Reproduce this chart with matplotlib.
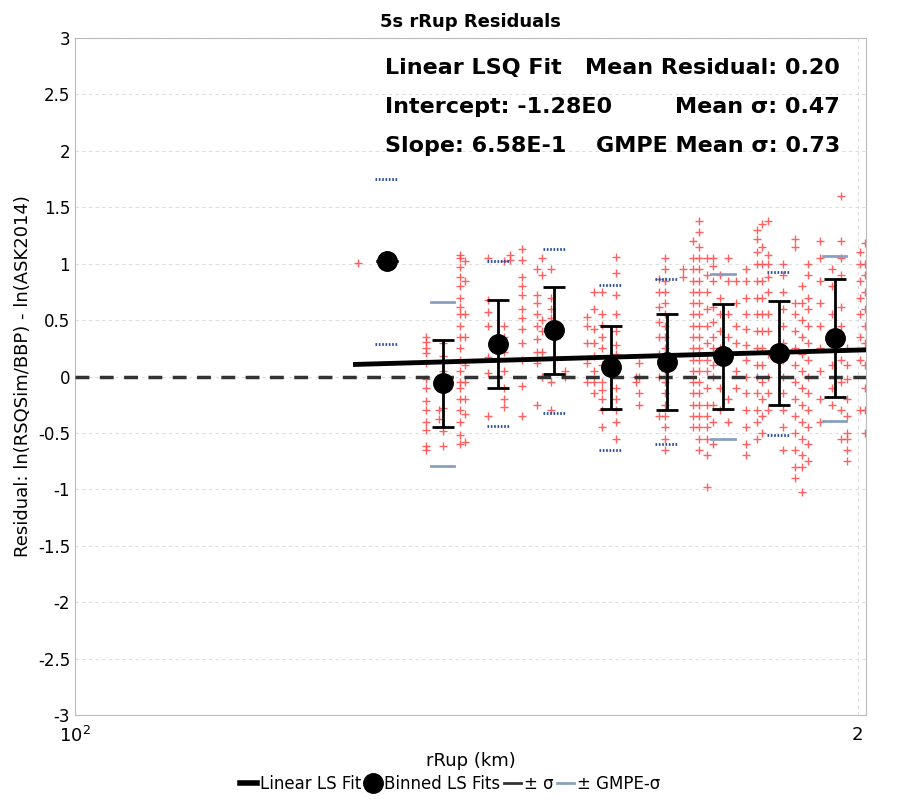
import numpy as np
import matplotlib
matplotlib.use("Agg")
import matplotlib.pyplot as plt
from matplotlib.lines import Line2D

# binned stats (rRup km, residual)
bin_r = [131.8, 138.5, 145.5, 152.9, 160.7, 168.9, 177.5, 186.5, 196.0]
bin_mean = [1.02, -0.06, 0.29, 0.41, 0.08, 0.13, 0.18, 0.21, 0.34]
bin_sigma = [0.0, 0.385, 0.39, 0.385, 0.37, 0.425, 0.465, 0.46, 0.525]
gmpe_hi = [1.75, 0.66, 1.02, 1.13, 0.81, 0.86, 0.91, 0.93, 1.07]
gmpe_lo = [0.29, -0.79, -0.44, -0.32, -0.65, -0.60, -0.55, -0.52, -0.39]
gmpe_dotted = [True, False, True, True, True, True, False, True, False]
fit_intercept = -1.28
fit_slope = 0.658
fit_r = [128.2, 201.5]

# scatter columns: rRup and residual values
col_r = [128.5, 136.5, 138.0, 138.5, 140.6, 141.2, 144.2, 146.2, 147.0, 148.6,
         150.6, 151.2, 152.4, 154.3, 157.4, 158.4, 159.5, 161.5, 164.3, 164.8,
         167.7, 168.7, 171.3, 172.8, 173.8, 175.0, 176.0, 177.0, 178.3, 179.6,
         181.2, 183.0, 183.7, 184.7, 187.3, 189.2, 190.4, 191.4, 193.4, 195.5,
         197.0, 198.2, 200.5, 201.3]
col_y = [
    [1.01],
    [-0.65, -0.62, -0.47, -0.40, -0.30, -0.22, -0.10, -0.02, 0.12, 0.21, 0.25, 0.31, 0.35],
    [-0.38, -0.30],
    [-0.62, -0.48, -0.28, -0.12, 0.05, 0.18, 0.30],
    [-0.60, -0.52, -0.40, -0.30, -0.20, -0.10, -0.05, 0.05, 0.15, 0.25, 0.35, 0.45, 0.55, 0.62, 0.70, 0.80, 0.88, 0.97, 1.05, 1.08],
    [-0.58, -0.33, -0.20, -0.05, 0.10, 0.35, 0.55, 0.85, 1.02],
    [-0.35, 0.03, 0.17, 0.45, 0.57, 0.68, 1.05],
    [-0.27, -0.20, -0.10, 0.05, 0.22, 0.35, 0.45, 1.02],
    [1.03, 1.08],
    [-0.35, -0.08, 0.15, 0.30, 0.42, 0.52, 0.60, 0.72, 0.80, 0.88, 1.03, 1.13],
    [-0.25, 0.12, 0.22, 0.33, 0.45, 0.55, 0.65, 0.72, 0.95],
    [0.0, 0.22, 0.40, 0.50, 0.90, 1.05],
    [-0.30, -0.05, 0.40, 0.45, 0.52, 0.60, 0.70, 0.95],
    [0.05, 0.0],
    [-0.05, 0.12, 0.30, 0.45, 0.53],
    [-0.15, -0.05, 0.05, 0.18, 0.30, 0.42, 0.60, 0.75],
    [-0.45, -0.30, -0.20, -0.12, -0.05, 0.10, 0.25, 0.35, 0.46, 0.55, 0.75],
    [-0.55, -0.40, -0.30, -0.20, -0.10, 0.20, 0.28, 0.40, 0.55, 0.72, 0.92, 1.06],
    [-0.05, 0.0],
    [-0.25, -0.15, 0.0, 0.12],
    [-0.35, 0.0, 0.20, 0.35, 0.48, 0.62, 0.75, 0.86],
    [-0.65, -0.55, -0.45, -0.35, -0.25, -0.15, -0.05, 0.05, 0.15, 0.25, 0.35, 0.45, 0.55, 0.65, 0.75, 0.85, 0.95, 1.05],
    [0.88, 0.95],
    [-0.45, -0.35, -0.25, -0.15, -0.05, 0.05, 0.15, 0.25, 0.35, 0.45, 0.55, 0.65, 0.75, 0.85, 0.95, 1.05, 1.20],
    [-0.65, -0.55, -0.45, -0.35, -0.25, -0.15, -0.05, 0.05, 0.15, 0.25, 0.35, 0.45, 0.55, 0.65, 0.75, 0.85, 0.95, 1.05, 1.15, 1.28, 1.38],
    [-0.98, -0.70, -0.55, -0.45, -0.35, -0.25, -0.10, 0.05, 0.15, 0.30, 0.45, 0.60, 0.75, 0.90, 1.05],
    [-0.60, -0.40, -0.25, 0.0, 0.10, 0.25, 0.35, 0.48, 0.62, 0.85, 0.98, 1.05],
    [-0.30, -0.10, 0.25, 0.40, 0.55, 0.70, 0.90],
    [-0.40, -0.20, 0.20, 0.35, 0.55, 0.85, 1.05],
    [-0.10, 0.05, 0.30, 0.45, 0.65, 0.85],
    [-0.70, -0.60, -0.45, -0.30, -0.15, 0.0, 0.15, 0.28, 0.42, 0.55, 0.70, 0.85, 0.95],
    [-0.55, -0.40, -0.30, -0.15, 0.0, 0.10, 0.25, 0.40, 0.55, 0.70, 0.85, 1.00, 1.10, 1.22, 1.30],
    [-0.50, -0.35, -0.20, -0.05, 0.10, 0.25, 0.40, 0.55, 0.70, 0.85, 1.00, 1.15, 1.35],
    [-0.30, -0.15, 0.0, 0.20, 0.40, 0.55, 0.75, 0.88, 1.00, 1.08, 1.38],
    [-0.65, -0.45, -0.30, -0.15, 0.0, 0.15, 0.30, 0.45, 0.60, 0.75, 0.90, 1.00],
    [-0.90, -0.80, -0.65, -0.50, -0.35, -0.20, -0.05, 0.10, 0.25, 0.40, 0.55, 0.65, 1.15, 1.22],
    [-1.02, -0.80, -0.70, -0.55, -0.40, -0.25, -0.10, 0.05, 0.20, 0.35, 0.50, 0.65, 0.80],
    [-0.75, -0.60, -0.45, -0.30, -0.15, 0.0, 0.15, 0.30, 0.45, 0.60, 0.70, 0.90, 1.00],
    [-0.40, -0.20, 0.05, 0.25, 0.45, 0.65, 0.85, 1.05, 1.20],
    [-0.25, -0.10, 0.10, 0.30, 0.55, 0.80, 0.95],
    [-0.55, -0.30, -0.05, 0.15, 0.45, 0.62, 0.90, 1.05, 1.20, 1.60],
    [-0.75, -0.65, -0.55, -0.50, -0.35, -0.20, -0.02, 0.10, 0.25],
    [-0.30, 0.15, 0.35, 0.55, 0.70, 0.85, 1.00, 1.10],
    [-0.50, -0.30, -0.10, 0.10, 0.30, 0.45, 0.60, 0.75, 0.90, 1.00, 1.18],
]

fig, ax = plt.subplots(figsize=(9, 8), dpi=100)
fig.subplots_adjust(left=75/900, right=866/900, top=1-38/800, bottom=1-715/800)

for r, ys in zip(col_r, col_y):
    ax.scatter([r]*len(ys), ys, marker="+", color="#ff4444", s=26, linewidths=1.0, alpha=0.85, zorder=2)

ax.axhline(0, color="#333333", ls=(0, (4, 3)), lw=2.5, zorder=3)

fit_y = [fit_intercept + fit_slope*np.log10(r) for r in fit_r]
ax.plot(fit_r, fit_y, color="black", lw=3.5, zorder=4)

for r, lo, hi, dot in zip(bin_r, gmpe_lo, gmpe_hi, gmpe_dotted):
    w = 0.0045
    xs = [r*10**(-w), r*10**w]
    if dot:
        ax.plot(xs, [hi, hi], color="#2a4f9a", lw=2, ls=(0, (0.6, 0.6)), zorder=3)
        ax.plot(xs, [lo, lo], color="#2a4f9a", lw=2, ls=(0, (0.6, 0.6)), zorder=3)
    else:
        ax.plot(xs, [hi, hi], color="#8aa0c0", lw=2, zorder=3)
        ax.plot(xs, [lo, lo], color="#8aa0c0", lw=2, zorder=3)

ax.errorbar(bin_r, bin_mean, yerr=bin_sigma, fmt="o", color="black", ms=14,
            elinewidth=2, capsize=8, capthick=2, zorder=5)

ax.set_xscale("log")
ax.set_xlim(100, 201.5)
ax.set_ylim(-3, 3)
ax.set_yticks(np.arange(-3, 3.01, 0.5))
ax.set_yticklabels([f"{v:g}" for v in np.arange(-3, 3.01, 0.5)], fontsize=12)
ax.xaxis.set_minor_locator(matplotlib.ticker.NullLocator())
ax.set_xticks([100, 200])
ax.set_xticklabels(["$10^2$", "2"], fontsize=13)
ax.tick_params(axis="x", pad=8)
ax.grid(True, color="#dddddd", ls=(0, (3, 3)), lw=0.8)
ax.tick_params(length=0)
for s in ax.spines.values():
    s.set_color("#bbbbbb")

ax.set_title("5s rRup Residuals", fontsize=13, fontweight="bold", pad=8)
ax.set_xlabel("rRup (km)", fontsize=13)
ax.set_ylabel("Residual: ln(RSQSim/BBP) - ln(ASK2014)", fontsize=13)

tx = (385-75)/791
tr = (840-75)/791
for i, (lt, rt) in enumerate([("Linear LSQ Fit", "Mean Residual: 0.20"),
                              ("Intercept: -1.28E0", "Mean σ: 0.47"),
                              ("Slope: 6.58E-1", "GMPE Mean σ: 0.73")]):
    y = 1 - (68 + 39*i - 38)/677
    ax.text(tx, y, lt, transform=ax.transAxes, fontsize=16, fontweight="bold", va="center", ha="left")
    ax.text(tr, y, rt, transform=ax.transAxes, fontsize=16, fontweight="bold", va="center", ha="right")

handles = [Line2D([], [], color="black", lw=4),
           Line2D([], [], color="black", marker="o", ls="none", ms=14),
           Line2D([], [], color="#333333", lw=2),
           Line2D([], [], color="#8aa0c0", lw=2)]
fig.legend(handles, ["Linear LS Fit", "Binned LS Fits", "± σ", "± GMPE-σ"],
           loc="lower center", ncol=4, frameon=False, fontsize=12,
           handlelength=1.0, handletextpad=0.2, columnspacing=0.2,
           bbox_to_anchor=(0.5, -0.01))

fig.savefig("out.png")
